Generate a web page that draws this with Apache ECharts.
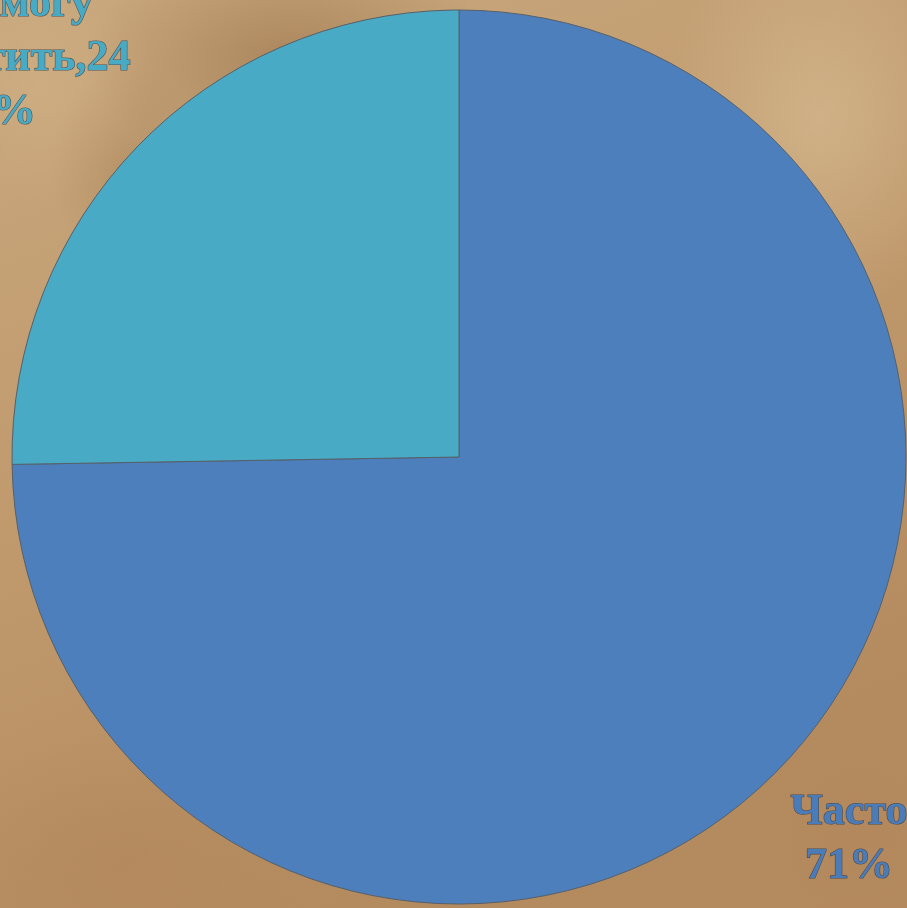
<!DOCTYPE html>
<html>
<head>
<meta charset="utf-8">
<script src="https://cdn.jsdelivr.net/npm/echarts@6/dist/echarts.min.js"></script>
<style>
html,body{margin:0;padding:0;background:#bf9a6e;}
#chart{width:907px;height:908px;}
</style>
</head>
<body>
<div id="chart"></div>
<script>
// Data
const categories = ['Часто', 'Не могу ответить'];
const values = [71, 24];
const sliceColors = ['#4d7fbc', '#48aac4'];
const labelColors = ['#4a7cba', '#47abc6'];

const chart = echarts.init(document.getElementById('chart'));

function labelText(i) {
  const name = categories[i];
  const v = values[i];
  if (i === 0) return name + '\n' + v + '%';
  const words = name.split(' ');
  return words.slice(0, 2).join(' ') + '\n' + words.slice(2).join(' ') + ',' + v + '\n%';
}

function blob(cx, cy, r, color, sx, sy) {
  return {
    type: 'circle',
    shape: {cx: 0, cy: 0, r: r},
    x: cx, y: cy, scaleX: sx || 1, scaleY: sy || 1,
    silent: true,
    style: {
      fill: new echarts.graphic.RadialGradient(0.5, 0.5, 0.5, [
        {offset: 0, color: color},
        {offset: 1, color: color.replace(/[\d.]+\)$/, '0)')}
      ])
    }
  };
}

const option = {
  backgroundColor: '#bf9a6e',
  animation: false,
  graphic: {
    elements: [
      {
        type: 'rect', shape: {x: 0, y: 0, width: 907, height: 908}, silent: true,
        style: {
          fill: new echarts.graphic.LinearGradient(0, 0, 0.4, 1, [
            {offset: 0, color: '#c9a87e'},
            {offset: 0.5, color: '#c09a6d'},
            {offset: 1, color: '#b48a5f'}
          ])
        }
      },
      blob(290, 60, 170, 'rgba(130,88,48,0.38)', 1.2, 0.7),
      blob(130, 170, 80, 'rgba(140,98,58,0.25)', 1, 1.3),
      blob(820, 120, 160, 'rgba(222,198,158,0.5)', 1, 1.2),
      blob(40, 90, 110, 'rgba(215,185,140,0.35)', 1, 1),
      blob(120, 860, 160, 'rgba(170,125,80,0.3)', 1.3, 0.8),
      blob(860, 840, 120, 'rgba(175,130,85,0.25)', 1, 1)
    ]
  },
  series: [{
    type: 'pie',
    center: [459, 457],
    radius: 447,
    startAngle: 90,
    clockwise: true,
    silent: true,
    minShowLabelAngle: 0,
    data: categories.map((c, i) => ({
      name: c,
      value: values[i],
      itemStyle: {color: sliceColors[i]},
      label: {color: labelColors[i]}
    })),
    itemStyle: {borderColor: '#56606a', borderWidth: 1},
    labelLine: {show: false},
    label: {
      show: true,
      position: 'inside',
      overflow: 'none',
      formatter: p => labelText(p.dataIndex),
      fontFamily: '"Liberation Serif", "Times New Roman", serif',
      fontWeight: 'bold',
      fontSize: 44,
      lineHeight: 54,
      align: 'center',
      textBorderColor: 'rgba(50,60,75,0.8)',
      textBorderWidth: 1.2
    },
    labelLayout: function (params) {
      if (params.dataIndex === 0) {
        return {x: 849, y: 840, align: 'center', verticalAlign: 'middle'};
      }
      return {x: 14, y: 59, align: 'center', verticalAlign: 'middle'};
    }
  }]
};
chart.setOption(option);
</script>
</body>
</html>
